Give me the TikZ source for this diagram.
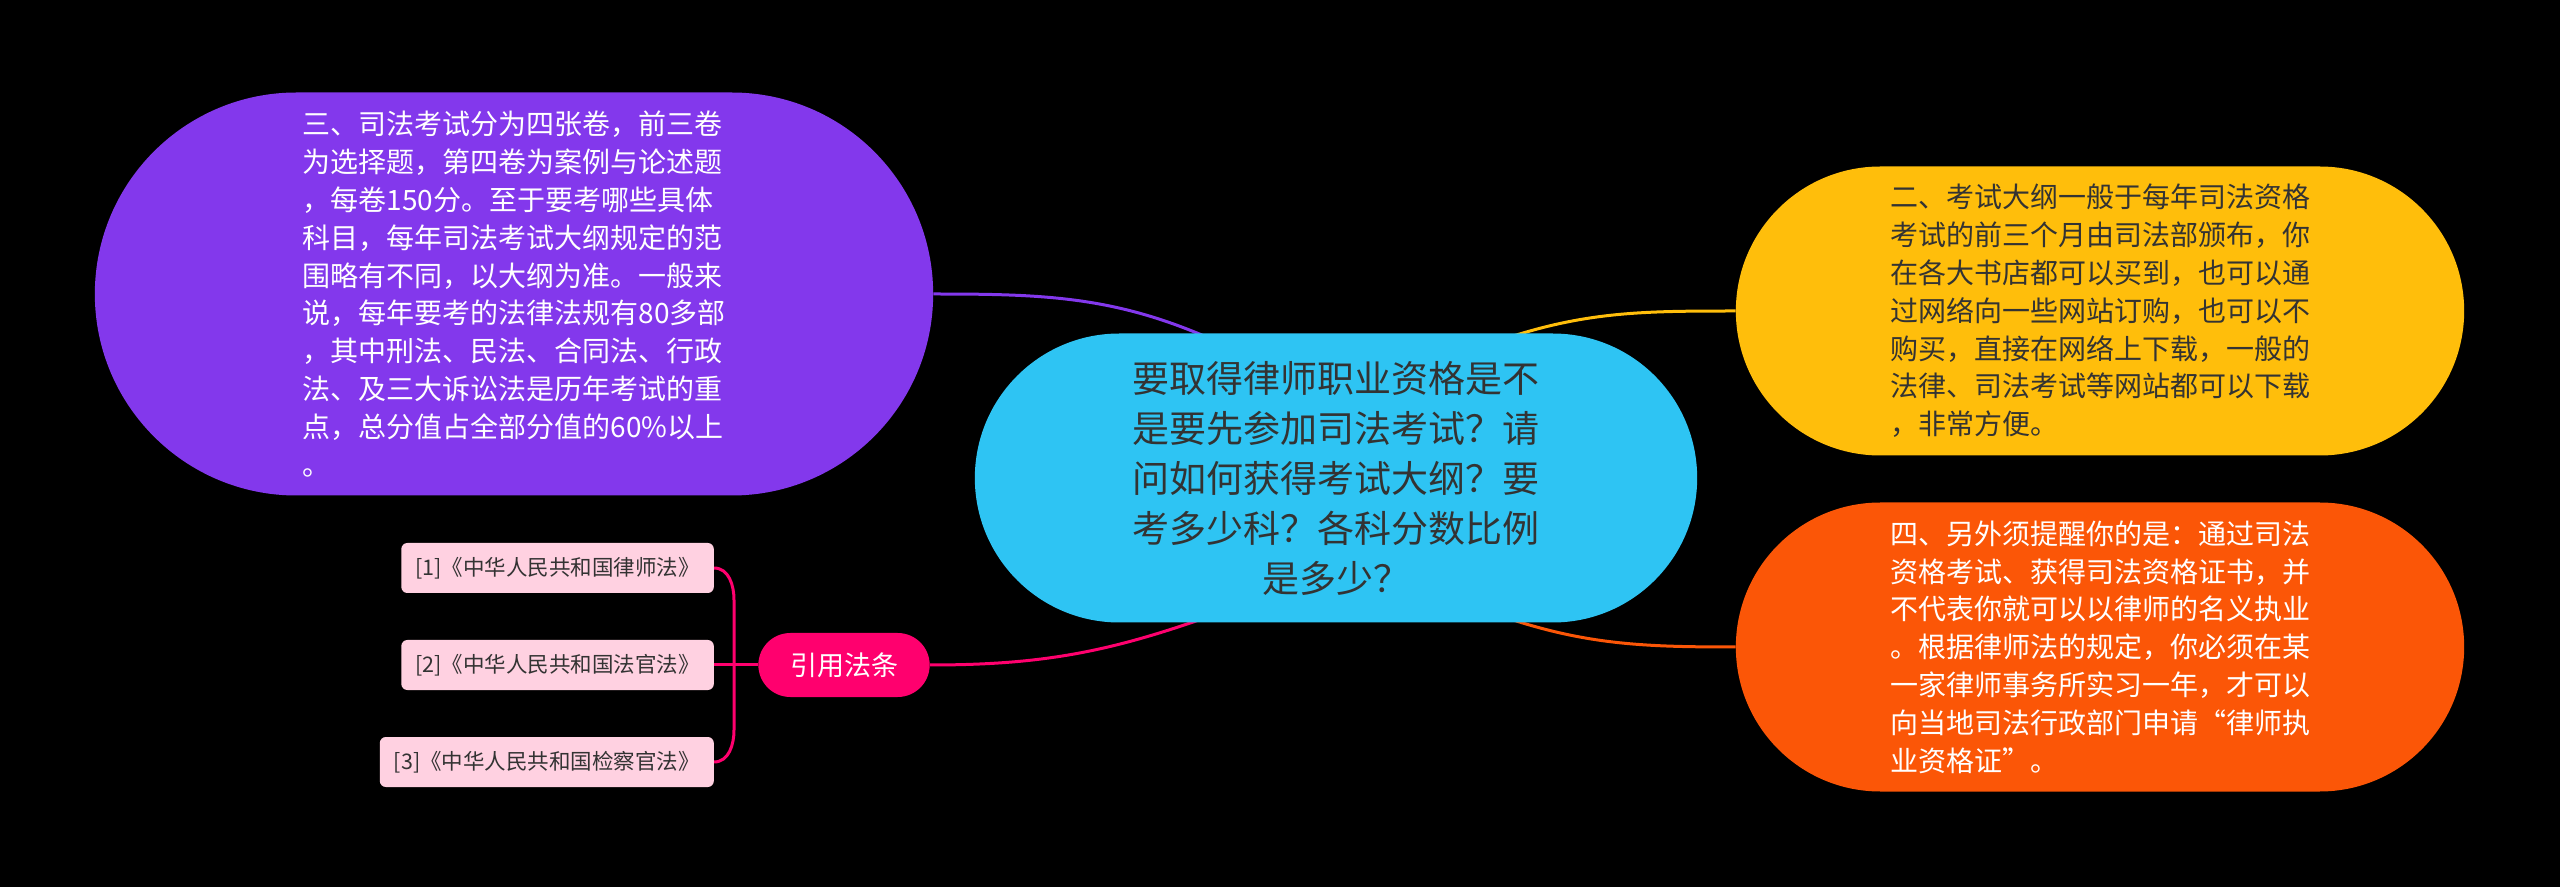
\documentclass[tikz,border=0pt]{standalone}
\usepackage{fontspec}
\setmainfont{Noto Sans CJK SC}
\usetikzlibrary{shapes.misc,calc}

\definecolor{rootblue}{HTML}{2EC4F3}
\definecolor{mindpurple}{HTML}{8338EC}
\definecolor{mindyellow}{HTML}{FFBE0B}
\definecolor{mindorange}{HTML}{FB5607}
\definecolor{mindpink}{HTML}{FF006E}
\definecolor{leafpink}{HTML}{FFD1E1}
\definecolor{darktext}{HTML}{333333}

\pgfdeclarelayer{canvas}
\pgfdeclarelayer{lines}
\pgfsetlayers{canvas,lines,main}

\tikzset{
  rootbox/.style={rounded rectangle, fill=rootblue, text=darktext, minimum width=729pt, minimum height=289pt, align=center, font=\fontsize{37}{50}\selectfont},
  topicbox/.style={rounded rectangle, minimum width=735pt, minimum height=289pt, align=left, font=\fontsize{28}{37.8}\selectfont},
  citebox/.style={rounded rectangle, fill=mindpink, text=white, minimum width=178pt, minimum height=64pt, font=\fontsize{27}{30}\selectfont},
  leafbox/.style={rectangle, rounded corners=6pt, fill=leafpink, text=darktext, anchor=east, minimum height=50pt, inner xsep=14pt, font=\fontsize{21.5}{25}\selectfont},
  branch/.style={line width=3pt},
}

\begin{document}
\begin{tikzpicture}[x=1pt,y=1pt]
\useasboundingbox (0,0) rectangle (2560,887);
\begin{pgfonlayer}{canvas}
\fill[black] (0,0) rectangle (2560,887);
\end{pgfonlayer}
% Central topic
\node[rootbox] (root) at (1336,409) {要取得律师职业资格是不\\是要先参加司法考试？请\\问如何获得考试大纲？要\\考多少科？各科分数比例\\是多少？};
% Topics
\node[topicbox, fill=mindpurple, text=white, minimum width=845pt, minimum height=403pt] (exam) at (514,593) {三、司法考试分为四张卷，前三卷\\为选择题，第四卷为案例与论述题\\，每卷150分。至于要考哪些具体\\科目，每年司法考试大纲规定的范\\围略有不同，以大纲为准。一般来\\说，每年要考的法律法规有80多部\\，其中刑法、民法、合同法、行政\\法、及三大诉讼法是历年考试的重\\点，总分值占全部分值的60\%以上\\。};
\node[topicbox, fill=mindyellow, text=darktext] (outline) at (2100,576) {二、考试大纲一般于每年司法资格\\考试的前三个月由司法部颁布，你\\在各大书店都可以买到，也可以通\\过网络向一些网站订购，也可以不\\购买，直接在网络上下载，一般的\\法律、司法考试等网站都可以下载\\，非常方便。};
\node[topicbox, fill=mindorange, text=white] (notice) at (2100,240) {四、另外须提醒你的是：通过司法\\资格考试、获得司法资格证书，并\\不代表你就可以以律师的名义执业\\。根据律师法的规定，你必须在某\\一家律师事务所实习一年，才可以\\向当地司法行政部门申请“律师执\\业资格证”。};
% Cited laws
\node[citebox] (cite) at (844,222) {引用法条};
\node[leafbox] (law1) at (714,319) {[1]《中华人民共和国律师法》};
\node[leafbox] (law2) at (714,222) {[2]《中华人民共和国法官法》};
\node[leafbox] (law3) at (714,125) {[3]《中华人民共和国检察官法》};
\coordinate (hubtop) at (734,287);
\coordinate (hubbot) at (734,157);
% Branches
\begin{pgfonlayer}{lines}
\draw[branch,mindpurple] (exam.east) to[out=0,in=155] ($(root.north)+(-111,-12)$);
\draw[branch,mindyellow] (outline.west) to[out=180,in=20] ($(root.north)+(150,-12)$);
\draw[branch,mindorange] (notice.west) to[out=180,in=-20] ($(root.south)+(150,12)$);
\draw[branch,mindpink] (cite.east) to[out=0,in=200] ($(root.south)+(-111,12)$);
\draw[branch,mindpink] (law1.east) to[out=0,in=90] (hubtop) -- (hubbot) to[out=-90,in=0] (law3.east);
\draw[branch,mindpink] (law2.east) -- (cite.west);
\end{pgfonlayer}
\end{tikzpicture}
\end{document}
